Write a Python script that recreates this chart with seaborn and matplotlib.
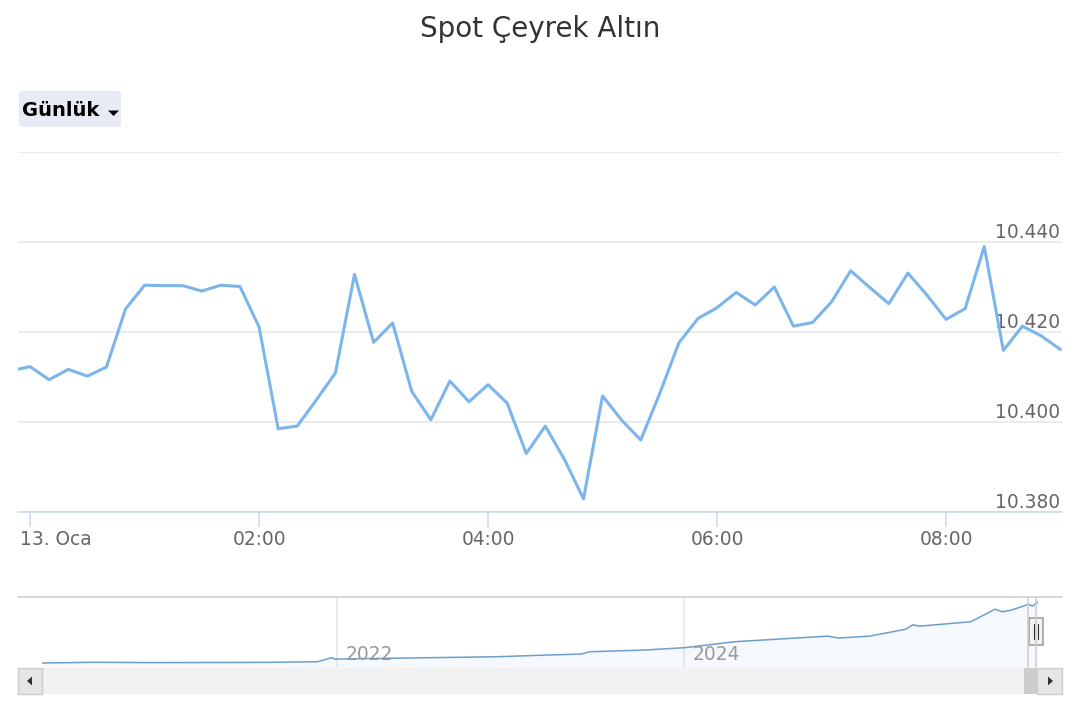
import pandas as pd
import matplotlib
matplotlib.use('Agg')
import matplotlib.pyplot as plt
import matplotlib.transforms as mtransforms
from matplotlib.patches import Rectangle, FancyBboxPatch, Polygon
import seaborn as sns

# Intraday spot quarter gold, 10 minute steps (12 Jan 23:50 -> 13 Jan 09:00)
times = pd.date_range('2026-01-12 23:50', '2026-01-13 09:00', freq='10min')
prices = [10.4114, 10.4123, 10.4094, 10.4117, 10.4102, 10.4122, 10.4251, 10.4304,
          10.4303, 10.4303, 10.4291, 10.4304, 10.4301, 10.4211, 10.3985, 10.3991,
          10.4049, 10.4109, 10.4328, 10.4177, 10.4220, 10.4068, 10.4005, 10.4091,
          10.4045, 10.4083, 10.4042, 10.3930, 10.3991, 10.3917, 10.3829, 10.4058,
          10.4004, 10.3960, 10.4064, 10.4176, 10.4230, 10.4254, 10.4288, 10.4260,
          10.4300, 10.4213, 10.4221, 10.4267, 10.4336, 10.4299, 10.4263, 10.4331,
          10.4282, 10.4228, 10.4252, 10.4390, 10.4159, 10.4213, 10.4191, 10.4161]

y_ticks = [10.38, 10.40, 10.42, 10.44, 10.46]
y_labels = ['10.380', '10.400', '10.420', '10.440', '']
x_ticks = pd.to_datetime(['2026-01-13 00:00', '2026-01-13 02:00', '2026-01-13 04:00',
                          '2026-01-13 06:00', '2026-01-13 08:00'])
x_labels = ['13. Oca', '02:00', '04:00', '06:00', '08:00']

# long range series for the navigator (TL)
nav_dates = pd.to_datetime(['2020-04-20 00:00', '2020-08-10 00:00', '2020-12-01 00:00', '2021-04-01 00:00',
                            '2021-08-01 00:00', '2021-11-20 00:00', '2021-12-20 00:00', '2021-12-28 00:00',
                            '2022-01-01 00:00', '2022-06-01 00:00', '2022-12-01 00:00', '2023-03-01 00:00',
                            '2023-05-30 00:00', '2023-06-15 00:00', '2023-10-10 00:00', '2024-01-01 00:00',
                            '2024-04-15 00:00', '2024-10-28 00:00', '2024-11-20 00:00', '2025-01-25 00:00',
                            '2025-04-10 00:00', '2025-04-25 00:00', '2025-05-10 00:00', '2025-08-25 00:00',
                            '2025-10-15 00:00', '2025-10-30 00:00', '2025-11-18 00:00', '2025-12-25 00:00',
                            '2026-01-01 00:00', '2026-01-13 09:00'])
nav_prices = [700, 820, 760, 780, 800, 900, 1550, 1300, 1340, 1500,
              1700, 1930, 2140, 2500, 2780, 3150, 4100, 5000, 4700, 5000,
              6100, 6800, 6600, 7300, 9300, 8900, 9150, 10100, 9800, 10420]
nav_year_ticks = pd.to_datetime(['2022-01-01', '2024-01-01'])
nav_year_labels = ['2022', '2024']

sns.set_theme(style='white')
plt.rcParams['font.family'] = ['DejaVu Sans']

W, H = 1080, 720
fig = plt.figure(figsize=(10.8, 7.2), dpi=100)

# main chart
ax = fig.add_axes([18 / W, 1 - 512 / H, 1044 / W, 360 / H])
sns.lineplot(x=times, y=prices, ax=ax, color='#7cb5ec', linewidth=2.2)
ax.set_xlim(pd.Timestamp('2026-01-12 23:53:40'), pd.Timestamp('2026-01-13 09:00:45'))
ax.set_ylim(10.38, 10.46)
ax.set_xlabel(None)
ax.set_ylabel(None)
for s in ['left', 'right', 'top']:
    ax.spines[s].set_visible(False)
ax.spines['bottom'].set_color('#ccd6eb')
ax.spines['bottom'].set_linewidth(1.1)

ax.set_yticks(y_ticks)
ax.set_yticklabels(y_labels)
ax.yaxis.tick_right()
ax.tick_params(axis='y', length=0, pad=-1.5, labelsize=13.4, labelcolor='#666666')
plt.setp(ax.yaxis.get_majorticklabels(), ha='right', va='bottom')
ax.grid(axis='y', color='#e6e6e6', linewidth=1.1)
ax.grid(axis='x', visible=False)

ax.set_xticks(x_ticks)
ax.set_xticklabels(x_labels)
ax.tick_params(axis='x', bottom=True, length=10.8, width=1.1, color='#ccd6eb',
               pad=2.5, labelsize=13.4, labelcolor='#666666')
first = ax.get_xticklabels()[0]
first.set_ha('left')
first.set_transform(first.get_transform() +
                    mtransforms.ScaledTranslation(-10 / 100, 0, fig.dpi_scale_trans))

# navigator
nav = fig.add_axes([42 / W, 1 - 667 / H, 996 / W, 70 / H])
nav.patch.set_alpha(0)
sns.lineplot(x=nav_dates, y=nav_prices, ax=nav, color='#6d9ecb', linewidth=1.1)
nav.fill_between(nav_dates, nav_prices, 0, color='#7cb5ec', alpha=0.07, linewidth=0)
nav.set_xlim(nav_dates[0], nav_dates[-1])
nav.set_ylim(60, 11260)
nav.set_xlabel(None)
nav.set_ylabel(None)
nav.set_yticks([])
nav.set_xticks(nav_year_ticks)
nav.set_xticklabels([])
nav.tick_params(axis='x', length=0)
nav.grid(axis='x', color='#e6e6e6', linewidth=1.1)
for s in nav.spines.values():
    s.set_visible(False)
lab_tr = mtransforms.blended_transform_factory(nav.transData, nav.transAxes) + \
    mtransforms.ScaledTranslation(8 / 100, 0, fig.dpi_scale_trans)
for d, t in zip(nav_year_ticks, nav_year_labels):
    nav.text(d, 0.1, t, transform=lab_tr, ha='left', va='baseline',
             fontsize=13.4, color='#999999')

# chrome: title, range button, scrollbar, handle
deco = fig.add_axes([0, 0, 1, 1], zorder=5)
deco.set_xlim(0, W)
deco.set_ylim(H, 0)
deco.axis('off')
deco.patch.set_alpha(0)

deco.text(540, 29, 'Spot Çeyrek Altın', ha='center', va='center', fontsize=20, color='#333333')

deco.add_patch(FancyBboxPatch((19, 91), 102, 36, boxstyle='round,pad=0,rounding_size=3',
                              fc='#e6ebf5', ec='none'))
deco.text(22, 110, 'Günlük', ha='left', va='center', fontsize=14, fontweight='bold', color='#000000')
deco.add_patch(Polygon([(108, 110.5), (119, 110.5), (113.5, 116)], closed=True, fc='#000000', ec='none'))

deco.plot([18, 1062], [597, 597], color='#cccccc', linewidth=1.1)
deco.plot([1028, 1028], [597, 667], color='#cccccc', linewidth=1.1)
deco.plot([1036, 1036], [597, 667], color='#cccccc', linewidth=1.1)

deco.add_patch(Rectangle((18, 668), 1044, 26, fc='#f2f2f2', ec='none'))
deco.add_patch(Rectangle((1024, 668), 13, 26, fc='#cccccc', ec='none'))
deco.add_patch(Rectangle((18, 668), 24, 26, fc='#e6e6e6', ec='#cccccc', linewidth=1))
deco.add_patch(Rectangle((1037, 668), 25, 26, fc='#e6e6e6', ec='#cccccc', linewidth=1))
deco.add_patch(Polygon([(27, 681), (32, 676.5), (32, 685.5)], closed=True, fc='#333333', ec='none'))
deco.add_patch(Polygon([(1053, 681), (1048, 676.5), (1048, 685.5)], closed=True, fc='#333333', ec='none'))

deco.add_patch(Rectangle((1029, 618), 14, 27, fc='#f2f2f2', ec='#999999', linewidth=1.1))
deco.plot([1034, 1034], [624, 639], color='#333333', linewidth=0.8)
deco.plot([1038, 1038], [624, 639], color='#333333', linewidth=0.8)

fig.savefig('out.png', dpi=100)
